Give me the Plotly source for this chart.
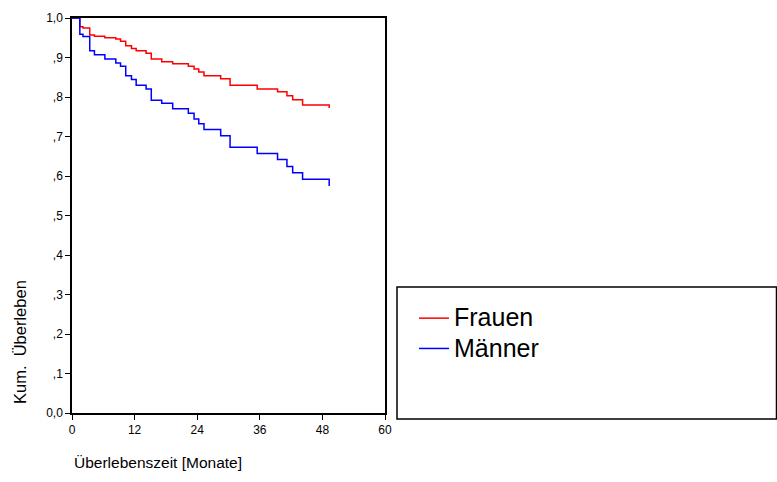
import plotly.graph_objects as go

# Data
months = [0, 1.5, 2.1, 3.4, 4.3, 6.3, 8.4, 9.3, 10.3, 11.4, 12.3, 14.2, 15.2, 17.2,
          19.3, 22.3, 23.4, 24.3, 25.3, 28.5, 30.3, 35.5, 39.4, 41.2, 42.3, 44.2, 49.3, 49.3]
surv_frauen = [1.0, 0.978, 0.975, 0.957, 0.954, 0.950, 0.947, 0.941, 0.930, 0.923, 0.917,
               0.911, 0.896, 0.889, 0.884, 0.878, 0.871, 0.863, 0.854, 0.846, 0.830, 0.820,
               0.813, 0.803, 0.793, 0.780, 0.780, 0.772]
surv_maenner = [1.0, 0.959, 0.953, 0.917, 0.907, 0.896, 0.886, 0.878, 0.854, 0.844, 0.830,
                0.820, 0.792, 0.784, 0.770, 0.759, 0.744, 0.732, 0.718, 0.702, 0.673, 0.657,
                0.642, 0.624, 0.608, 0.592, 0.592, 0.575]
series_names = ["Frauen", "Männer"]
series_colors = ["#FF0000", "#0000FF"]

x_tickvals = [0, 12, 24, 36, 48, 60]
x_ticktext = ["0", "12", "24", "36", "48", "60"]
y_tickvals = [0.0, 0.1, 0.2, 0.3, 0.4, 0.5, 0.6, 0.7, 0.8, 0.9, 1.0]
y_ticktext = ["0,0", ",1", ",2", ",3", ",4", ",5", ",6", ",7", ",8", ",9", "1,0"]

FONT = "Liberation Sans, Arial, sans-serif"
W, H = 777, 482
L, R, T, B = 72, 392, 18, 69
PW, PH = W - L - R, H - T - B

def px_x(p):
    return (p - L) / PW

def px_y(p):
    return (H - B - p) / PH

fig = go.Figure()
for name, ys, col in zip(series_names, [surv_frauen, surv_maenner], series_colors):
    fig.add_trace(go.Scatter(x=months, y=ys, mode="lines",
                             name="<span style='font-size:25px'>" + name + "</span>",
                             line=dict(color=col, width=1.5, shape="hv")))

fig.update_layout(
    width=W, height=H,
    margin=dict(l=L, r=R, t=T, b=B, pad=0),
    paper_bgcolor="white", plot_bgcolor="white",
    font=dict(family=FONT, color="black", size=12),
    showlegend=True,
    legend=dict(x=px_x(414), y=px_y(298), xanchor="left", yanchor="top",
                font=dict(size=21, family=FONT, color="black"),
                bgcolor="rgba(0,0,0,0)", borderwidth=0, itemwidth=30,
                tracegroupgap=0),
    xaxis=dict(range=[0, 60], tickvals=x_tickvals, ticktext=x_ticktext,
               showgrid=False, zeroline=False, showline=True, linecolor="black",
               linewidth=1.5, mirror=True, ticks="outside", ticklen=5,
               tickcolor="black", tickfont=dict(size=12, family=FONT)),
    yaxis=dict(range=[0, 1.0], tickvals=y_tickvals, ticktext=y_ticktext,
               showgrid=False, zeroline=False, showline=True, linecolor="black",
               linewidth=1.5, mirror=True, ticks="outside", ticklen=5,
               tickcolor="black", tickfont=dict(size=12, family=FONT)),
)

# legend frame
fig.add_shape(type="rect", xref="paper", yref="paper",
              x0=px_x(397), x1=px_x(776.5), y0=px_y(419), y1=px_y(287),
              line=dict(color="black", width=1.5), fillcolor="rgba(0,0,0,0)")

# axis titles
fig.add_annotation(text="Kum.  Überleben", xref="paper", yref="paper",
                   x=px_x(20), y=px_y(342), showarrow=False, textangle=-90,
                   xanchor="center", yanchor="middle",
                   font=dict(size=16.5, family=FONT, color="black"))
fig.add_annotation(text="Überlebenszeit [Monate]", xref="paper", yref="paper",
                   x=px_x(72), y=px_y(462), showarrow=False,
                   xanchor="left", yanchor="middle",
                   font=dict(size=15.5, family=FONT, color="black"))

fig.write_html("out.html")
